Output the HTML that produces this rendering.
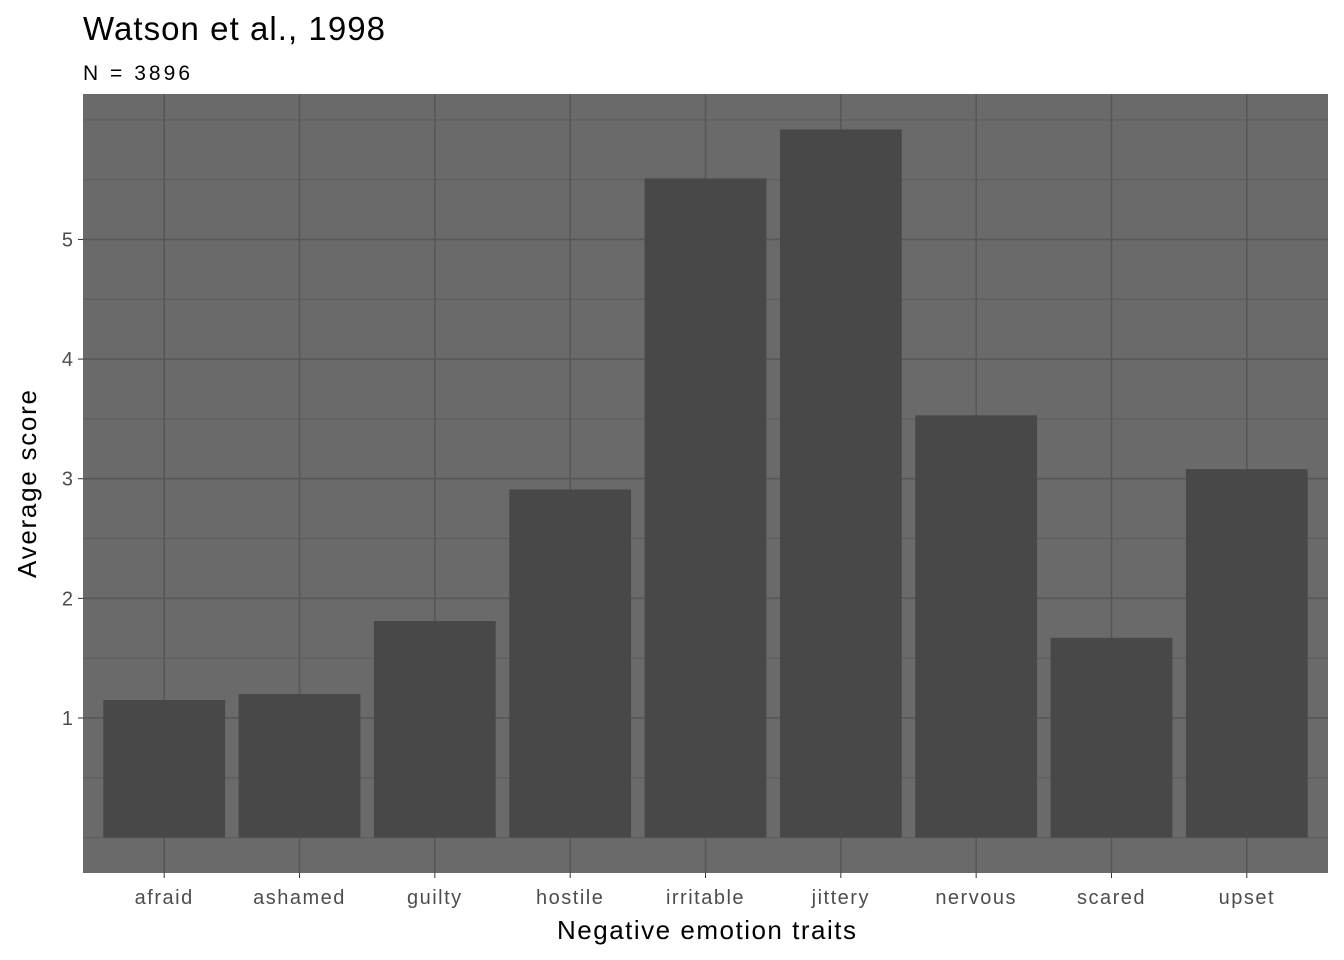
<!DOCTYPE html>
<html><head><meta charset="utf-8"><style>
body{margin:0;background:#fff;font-family:"Liberation Sans",Arial,sans-serif;}
svg{display:block}
</style></head><body>
<svg id="chart" width="1344" height="960">
<text x="83" y="40" font-size="33" textLength="302" lengthAdjust="spacing" fill="#000">Watson et al., 1998</text>
<text x="83" y="80" font-size="21" textLength="107" lengthAdjust="spacing" fill="#000">N = 3896</text>
<rect x="83" y="94" width="1245" height="779" fill="#6a6a6a"/>
<g id="grid"></g><g id="bars"></g><g id="axes"></g>
<text x="557" y="939" font-size="26" textLength="299" lengthAdjust="spacing" fill="#000">Negative emotion traits</text>
<text transform="translate(36,578) rotate(-90)" font-size="26" textLength="188" lengthAdjust="spacing" fill="#000">Average score</text>
</svg>
<script>
const categories=["afraid","ashamed","guilty","hostile","irritable","jittery","nervous","scared","upset"];
const values=[1.15,1.20,1.81,2.91,5.51,5.92,3.53,1.67,3.08];
const yTicks=[1,2,3,4,5];
const yMinor=[0,0.5,1.5,2.5,3.5,4.5,5.5,6];
const NS="http://www.w3.org/2000/svg";
const pL=83,pR=1328,pT=94,pB=873;
const yMax=Math.max(...values),yLo=-yMax*0.05,yHi=yMax*1.05;
const y=v=>pB-(v-yLo)/(yHi-yLo)*(pB-pT);
const step=(pR-pL)/(categories.length-1+1.2);
const x=i=>pL+step*(0.6+i);
const bw=step*0.9;
function mk(t,a,p){const e=document.createElementNS(NS,t);for(const k in a)e.setAttribute(k,a[k]);p.appendChild(e);return e;}
const g=document.getElementById('grid'),b=document.getElementById('bars'),ax=document.getElementById('axes');
yMinor.forEach(v=>{const l=mk('line',{x1:pL,x2:pR,y1:y(v),y2:y(v),stroke:'#5e5e5e','stroke-width':1.2},g);

});
yTicks.forEach(v=>{const l=mk('line',{x1:pL,x2:pR,y1:y(v),y2:y(v),stroke:'#575757','stroke-width':1.6},g);


const t=mk('line',{x1:pL-5,x2:pL,y1:y(v),y2:y(v),stroke:'#333','stroke-width':1},ax);


const tx=mk('text',{x:pL-10,y:y(v)+7,'font-size':20,'text-anchor':'end',fill:'#4d4d4d'},ax);tx.textContent=v;

});
categories.forEach((c,i)=>{const l=mk('line',{x1:x(i),x2:x(i),y1:pT,y2:pB,stroke:'#575757','stroke-width':1.6},g);


const r=mk('rect',{x:x(i)-bw/2,y:y(values[i]),width:bw,height:y(0)-y(values[i]),fill:'#484848'},b);


const t=mk('line',{x1:x(i),x2:x(i),y1:pB,y2:pB+5,stroke:'#333','stroke-width':1},ax);


const tx=mk('text',{x:x(i),y:pB+31,'font-size':20,'letter-spacing':1.5,'text-anchor':'middle',fill:'#4d4d4d'},ax);tx.textContent=c;

});
</script>
</body></html>
